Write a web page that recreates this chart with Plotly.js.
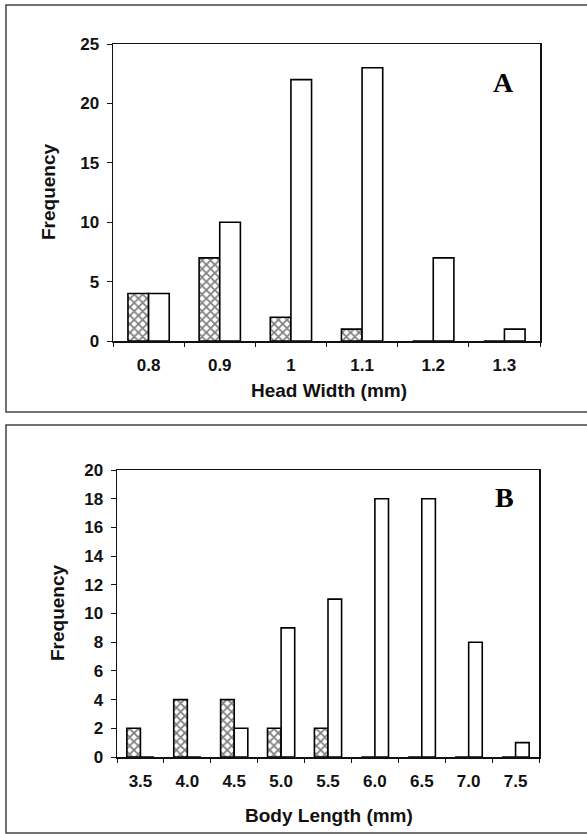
<!DOCTYPE html>
<html>
<head>
<meta charset="utf-8">
<script src="https://cdn.plot.ly/plotly-3.0.1.min.js"></script>
<style>
html,body{margin:0;padding:0;background:#fff;}
#chart{width:587px;height:834px;}
</style>
</head>
<body>
<div id="chart"></div>
<script>
// ---- Data ----
var headWidthCats = ['0.8', '0.9', '1', '1.1', '1.2', '1.3'];
var headHatched   = [4, 7, 2, 1, 0, 0];
var headOpen      = [4, 10, 22, 23, 7, 1];

var bodyLengthCats = ['3.5', '4.0', '4.5', '5.0', '5.5', '6.0', '6.5', '7.0', '7.5'];
var bodyHatched    = [2, 4, 4, 2, 2, 0, 0, 0, 0];
var bodyOpen       = [0, 0, 2, 9, 11, 18, 18, 8, 1];

var yTicksA = [0, 5, 10, 15, 20, 25];
var yTicksB = [0, 2, 4, 6, 8, 10, 12, 14, 16, 18, 20];

// ---- Layout helpers (pixel -> paper) ----
var W = 587, H = 834;
function px(x){ return x / W; }
function py(y){ return 1 - y / H; }

var hatch = {shape: 'x', fgcolor: '#000', bgcolor: '#fff', size: 6, solidity: 0.5, fillmode: 'overlay'};
var outline = {color: '#000', width: 1.6};
var tickFont = {family: 'Liberation Sans, Arial, sans-serif', size: 17, color: '#111', weight: 'bold'};
var titleFont = {family: 'Liberation Sans, Arial, sans-serif', size: 19, color: '#111', weight: 'bold'};
var letterFont = {family: 'Liberation Serif, Times New Roman, serif', size: 28, color: '#000', weight: 'bold'};

var traces = [
  {type: 'bar', x: headWidthCats, y: headHatched, xaxis: 'x', yaxis: 'y',
   marker: {color: '#fff', pattern: hatch, line: outline}, hoverinfo: 'x+y'},
  {type: 'bar', x: headWidthCats, y: headOpen, xaxis: 'x', yaxis: 'y',
   marker: {color: '#fff', line: outline}, hoverinfo: 'x+y'},
  {type: 'bar', x: bodyLengthCats, y: bodyHatched, xaxis: 'x2', yaxis: 'y2',
   marker: {color: '#fff', pattern: hatch, line: outline}, hoverinfo: 'x+y'},
  {type: 'bar', x: bodyLengthCats, y: bodyOpen, xaxis: 'x2', yaxis: 'y2',
   marker: {color: '#fff', line: outline}, hoverinfo: 'x+y'}
];

function xAxis(domain, anchor){
  return {
    domain: domain, anchor: anchor, type: 'category',
    showline: true, linecolor: '#111', linewidth: 1.5, mirror: true,
    ticks: 'outside', tickson: 'boundaries', ticklen: 4, tickcolor: '#111', tickwidth: 1,
    ticklabelstandoff: 8,
    showgrid: false, zeroline: false, tickfont: tickFont, fixedrange: true
  };
}
function yAxis(domain, anchor, range, vals){
  return {
    domain: domain, anchor: anchor, range: range,
    tickmode: 'array', tickvals: vals, ticktext: vals.map(String),
    showline: true, linecolor: '#111', linewidth: 1.5, mirror: true,
    ticks: 'outside', ticklen: 5, tickcolor: '#111', tickwidth: 1,
    ticklabelstandoff: 4,
    showgrid: false, zeroline: false, tickfont: tickFont, fixedrange: true
  };
}

var layout = {
  width: W, height: H,
  margin: {l: 0, r: 0, t: 0, b: 0},
  paper_bgcolor: '#fff', plot_bgcolor: '#fff',
  showlegend: false,
  barmode: 'group', bargap: 0.42, bargroupgap: 0,
  xaxis:  xAxis([px(113), px(540)], 'y'),
  yaxis:  yAxis([py(341), py(44)], 'x', [0, 25], yTicksA),
  xaxis2: xAxis([px(117), px(539)], 'y2'),
  yaxis2: yAxis([py(757), py(470)], 'x2', [0, 20], yTicksB),
  shapes: [
    {type: 'rect', xref: 'paper', yref: 'paper', x0: px(6), x1: px(592), y0: py(412), y1: py(5),
     line: {color: '#444', width: 1.5}, fillcolor: 'rgba(0,0,0,0)', layer: 'below'},
    {type: 'rect', xref: 'paper', yref: 'paper', x0: px(6), x1: px(592), y0: py(833), y1: py(425),
     line: {color: '#444', width: 1.5}, fillcolor: 'rgba(0,0,0,0)', layer: 'below'}
  ],
  annotations: [
    {xref: 'paper', yref: 'paper', x: px(329), y: py(390), text: 'Head Width (mm)', showarrow: false,
     xanchor: 'center', yanchor: 'middle', font: titleFont},
    {xref: 'paper', yref: 'paper', x: px(48), y: py(192), text: 'Frequency', showarrow: false, textangle: -90,
     xanchor: 'center', yanchor: 'middle', font: titleFont},
    {xref: 'paper', yref: 'paper', x: px(503), y: py(82), text: 'A', showarrow: false,
     xanchor: 'center', yanchor: 'middle', font: letterFont},
    {xref: 'paper', yref: 'paper', x: px(329), y: py(815), text: 'Body Length (mm)', showarrow: false,
     xanchor: 'center', yanchor: 'middle', font: titleFont},
    {xref: 'paper', yref: 'paper', x: px(57), y: py(613), text: 'Frequency', showarrow: false, textangle: -90,
     xanchor: 'center', yanchor: 'middle', font: titleFont},
    {xref: 'paper', yref: 'paper', x: px(504), y: py(498), text: 'B', showarrow: false,
     xanchor: 'center', yanchor: 'middle', font: letterFont}
  ]
};

Plotly.newPlot('chart', traces, layout, {staticPlot: true, displayModeBar: false});
</script>
</body>
</html>
